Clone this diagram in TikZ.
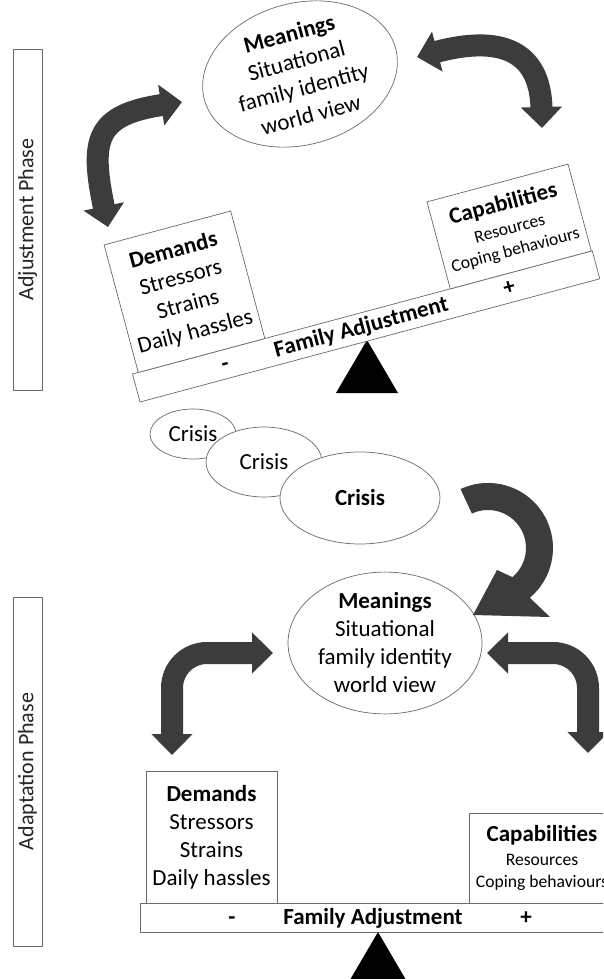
\documentclass[tikz,border=0pt]{standalone}
\usepackage{fontspec}
\setmainfont{Carlito}
\usetikzlibrary{arrows.meta,shapes.geometric}
\definecolor{arrowgray}{HTML}{3C3C3C}
\definecolor{linegray}{HTML}{6A6A6A}
\tikzset{
  txt/.style={font=\fontsize{23}{28}\selectfont},
  beamtxt/.style={font=\fontsize{23}{28}\selectfont\bfseries, inner sep=0pt, anchor=base},
  boxnode/.style={draw=linegray, line width=0.7pt, fill=white, inner sep=0pt, align=center},
  ellnode/.style={ellipse, draw=linegray, line width=0.7pt, fill=white, inner sep=0pt, align=center},
  phasebox/.style={draw=linegray, line width=0.8pt, inner sep=0pt, rotate=90, minimum height=29,
    font=\fontsize{22}{26}\selectfont, text=black!85},
  blockarrow/.style={draw=arrowgray, line width=22pt,
    {Triangle[length=21pt,width=40pt]}-{Triangle[length=21pt,width=40pt]}},
  pivot/.style={fill=black, draw=none},
}
\newcommand\seesawparts[1]{%
  \node[boxnode, minimum width=476, minimum height=29] (#1beam) at (238,-14.5) {};
  \node[boxnode, txt, minimum width=131, minimum height=132] (#1dem) at (71.5,-95)
    {\textbf{Demands}\\Stressors\\Strains\\Daily hassles};
  \node[boxnode, txt, minimum width=146, minimum height=90] (#1cap) at (402,-74)
    {\textbf{Capabilities}\\[-4pt]{\fontsize{17.6}{21}\selectfont Resources}\\[-6pt]{\fontsize{17.6}{21}\selectfont Coping behaviours}};
  \node[beamtxt] (#1minus) at (92,-8) {-};
  \node[beamtxt] (#1fa) at (233,-8) {Family Adjustment};
  \node[beamtxt] (#1plus) at (386,-8) {+};
}
\begin{document}
\begin{tikzpicture}[x=1pt, y=-1pt]
\clip (0,0) rectangle (603,979);
\fill[white] (0,0) rectangle (603,979);

% phase labels
\node[phasebox, minimum width=341] (adj) at (27.5,219.5) {Adjustment Phase};
\node[phasebox, minimum width=349] (ada) at (27.5,771.5) {Adaptation Phase};

% ---------- adjustment phase ----------
\node[ellnode, txt, rotate=15, minimum width=198, minimum height=120] (m1) at (300,74)
  {\textbf{Meanings}\\Situational\\family identity\\world view};

\coordinate (a1s) at (182,102);
\coordinate (a1e) at (108,227);
\draw[blockarrow] (a1s) .. controls (95,115) and (90,140) .. (a1e);
\coordinate (a2s) at (417,57);
\coordinate (a2e) at (542,128);
\draw[blockarrow] (a2s) .. controls (500,35) and (540,50) .. (a2e);

\fill[pivot] (367,340) -- (398,393) -- (336,393) -- cycle;
\begin{scope}[shift={(140,402)}, rotate=15, transform shape]
  \seesawparts{t}
\end{scope}

% ---------- crises ----------
\node[ellnode, txt, minimum width=86, minimum height=50] (c1) at (193,434) {Crisis};
\node[ellnode, txt, minimum width=116, minimum height=70] (c2) at (264,462) {Crisis};
\node[ellnode, txt, minimum width=160, minimum height=92, font=\fontsize{23}{28}\selectfont\bfseries] (c3) at (360,498) {Crisis};

% ---------- adaptation phase ----------
\node[ellnode, txt, minimum width=194, minimum height=122] (m2) at (385,643)
  {\textbf{Meanings}\\Situational\\family identity\\world view};

\fill[arrowgray] (488,548) ++(-115:65) arc[start angle=-115, end angle=50, radius=65]
  -- (550,617) -- (473,615) -- (497,570) -- (512.4,577.1)
  arc[start angle=50, end angle=-115, radius=38] -- cycle;

\coordinate (b1s) at (273,653);
\coordinate (b1e) at (172,755);
\draw[blockarrow, rounded corners=35pt] (b1s) -- (172,653) -- (b1e);
\coordinate (b2s) at (487,653);
\coordinate (b2e) at (588,753);
\draw[blockarrow, rounded corners=35pt] (b2s) -- (588,653) -- (b2e);

\fill[pivot] (378,932) -- (409,985) -- (347,985) -- cycle;
\begin{scope}[shift={(140,932)}]
  \seesawparts{b}
\end{scope}
\end{tikzpicture}
\end{document}
